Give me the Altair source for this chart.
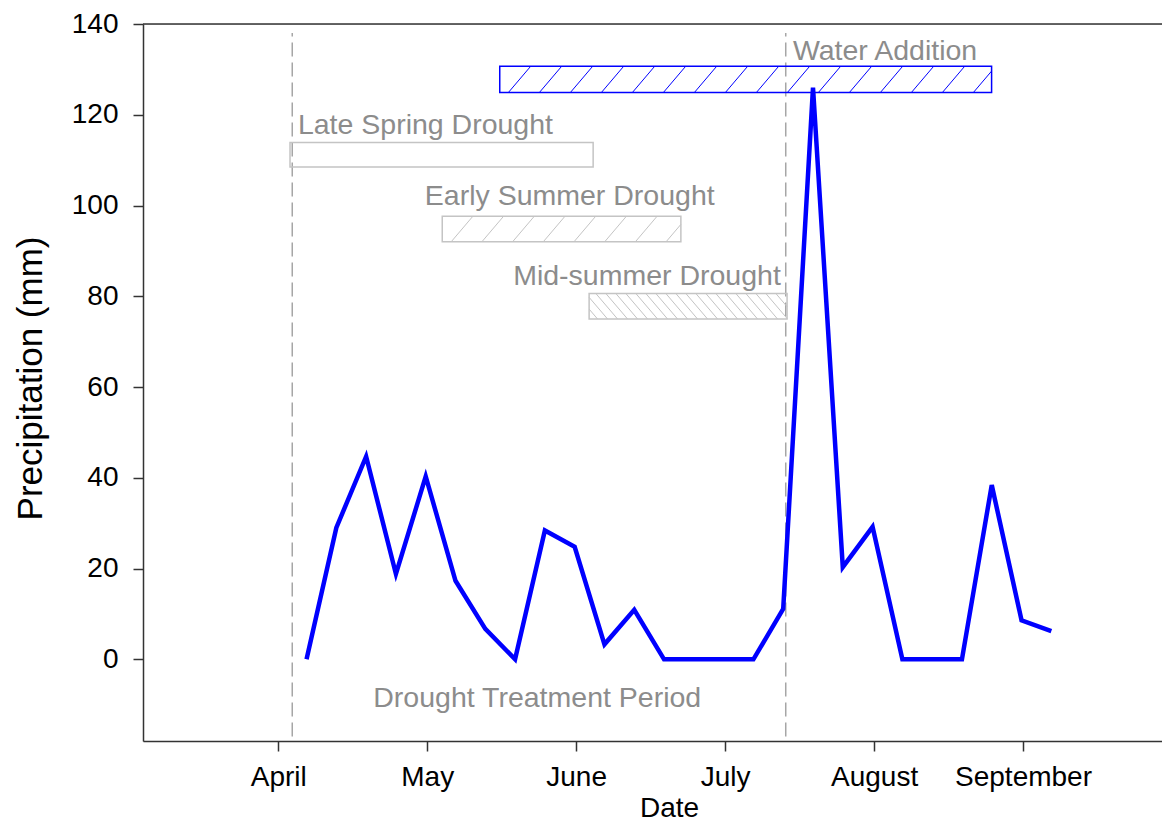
import altair as alt
import pandas as pd

# ---------------- data ----------------
# x in "month" units (4 = April, 5 = May, ...)
week_x = [4.19, 4.39, 4.59, 4.79, 4.99, 5.19, 5.39, 5.59, 5.79, 5.99, 6.19, 6.39, 6.59,
          6.79, 6.99, 7.19, 7.39, 7.59, 7.79, 7.99, 8.19, 8.39, 8.59, 8.79, 8.99, 9.19]
precip = [0, 29.0, 44.7, 18.8, 40.3, 17.3, 6.7, 0, 28.4, 24.8, 3.3, 10.9, 0,
          0, 0, 0, 11.1, 126.0, 20.3, 29.2, 0, 0, 0, 38.4, 8.6, 6.2]

month_ticks = [4, 5, 6, 7, 8, 9]
month_names = ["April", "May", "June", "July", "August", "September"]

period_x = [4.094, 7.407]          # dashed "drought treatment period" bounds
period_y = [-17.0, 138.0]

box_names = ["Water Addition", "Late Spring Drought", "Early Summer Drought", "Mid-summer Drought"]
box_x0 = [5.487, 4.079, 5.101, 6.087]
box_x1 = [8.789, 6.114, 6.703, 7.416]
box_y0 = [124.9, 108.5, 92.0, 75.0]
box_y1 = [130.7, 113.9, 97.65, 80.6]
box_color = ["#0000ff", "#c4c4c4", "#c4c4c4", "#c4c4c4"]
hatch_spacing = [31.0, None, 30.7, 10.0]   # px between hatch lines
hatch_dir = [1, 0, 1, -1]                  # 1 = "/", -1 = "\", 0 = none

label_text = ["Water Addition", "Late Spring Drought", "Early Summer Drought",
              "Mid-summer Drought", "Drought Treatment Period"]
label_x = [7.455, 4.132, 4.984, 5.577, 4.638]
label_y = [132.1, 115.8, 100.2, 82.5, -10.45]

X_MIN, X_MAX = 3.092, 9.933
Y_MIN, Y_MAX = -18.0, 140.0
W, H = 1019, 717
FONT = "Liberation Sans"

# ---------------- derived tables ----------------
line_df = pd.DataFrame({"x": week_x, "y": precip})
period_df = pd.DataFrame({"x": period_x, "y": [period_y[0]] * 2, "y2": [period_y[1]] * 2})
box_df = pd.DataFrame({"name": box_names, "x": box_x0, "x2": box_x1,
                       "y": box_y0, "y2": box_y1, "color": box_color})
label_df = pd.DataFrame({"text": label_text, "x": label_x, "y": label_y})

PX_X = W / (X_MAX - X_MIN)
PX_Y = H / (Y_MAX - Y_MIN)
SLANT = 0.85

hatch_rows = []
for i in range(len(box_names)):
    if hatch_dir[i] == 0:
        continue
    bw = (box_x1[i] - box_x0[i]) * PX_X
    bh = (box_y1[i] - box_y0[i]) * PX_Y
    k = hatch_dir[i] * SLANT
    sp = hatch_spacing[i]
    c = -SLANT * bh - sp
    while c < bw + SLANT * bh + sp:
        if k > 0:
            v_lo = max(0.0, (0 - c) / k)
            v_hi = min(bh, (bw - c) / k)
        else:
            v_lo = max(0.0, (bw - c) / k)
            v_hi = min(bh, (0 - c) / k)
        if v_hi - v_lo > 0.5:
            u_lo = c + k * v_lo
            u_hi = c + k * v_hi
            hatch_rows.append({
                "x": box_x0[i] + u_lo / PX_X, "x2": box_x0[i] + u_hi / PX_X,
                "y": box_y0[i] + v_lo / PX_Y, "y2": box_y0[i] + v_hi / PX_Y,
                "color": box_color[i]})
        c += sp
hatch_df = pd.DataFrame(hatch_rows)

label_expr = " : ".join(
    [f"datum.value == {m} ? '{n}'" for m, n in zip(month_ticks, month_names)]) + " : ''"

xscale = alt.Scale(domain=[X_MIN, X_MAX], nice=False, zero=False)
yscale = alt.Scale(domain=[Y_MIN, Y_MAX], nice=False, zero=False)

x_axis = alt.Axis(values=month_ticks, labelExpr=label_expr, title="Date", grid=False,
                  tickSize=10, tickColor="#333333", tickWidth=1.5,
                  domainColor="#333333", domainWidth=1.5,
                  labelFontSize=28, labelFont=FONT, labelColor="#000000", labelPadding=12,
                  titleFont=FONT, titleFontSize=28, titleFontWeight="normal",
                  titleColor="#000000", titleX=526, titleY=75, titleBaseline="alphabetic")
y_axis = alt.Axis(values=[0, 20, 40, 60, 80, 100, 120, 140], title="Precipitation (mm)",
                  grid=False, tickSize=10, tickColor="#333333", tickWidth=1.5,
                  domainColor="#333333", domainWidth=1.5,
                  labelFontSize=28, labelFont=FONT, labelColor="#000000", labelPadding=15,
                  titleFont=FONT, titleFontSize=35, titleFontWeight="normal",
                  titleColor="#000000", titleX=-113, titleY=354, titleBaseline="middle",
                  titleAngle=270)

period = alt.Chart(period_df).mark_rule(color="#a6a6a6", strokeWidth=1.5,
                                        strokeDash=[14, 6]).encode(
    x=alt.X("x:Q", scale=xscale, axis=x_axis),
    y=alt.Y("y:Q", scale=yscale, axis=y_axis),
    y2="y2:Q")

boxes = alt.Chart(box_df).mark_rect(fillOpacity=0, strokeWidth=1.5).encode(
    x="x:Q", x2="x2:Q", y="y:Q", y2="y2:Q",
    stroke=alt.Stroke("color:N", scale=None))

hatches = alt.Chart(hatch_df).mark_rule(strokeWidth=1).encode(
    x="x:Q", x2="x2:Q", y="y:Q", y2="y2:Q",
    color=alt.Color("color:N", scale=None))

line = alt.Chart(line_df).mark_line(color="#0000ff", strokeWidth=4.5).encode(
    x="x:Q", y="y:Q")

labels = alt.Chart(label_df).mark_text(align="left", baseline="alphabetic", fontSize=28.5,
                                       font=FONT, color="#8c8c8c").encode(
    x="x:Q", y="y:Q", text="text:N")

top_border = alt.Chart(pd.DataFrame({"y": [Y_MAX]})).mark_rule(
    color="#333333", strokeWidth=1.5).encode(
    x=alt.value(0), x2=alt.value(W), y="y:Q")

chart = alt.layer(period, hatches, boxes, line, labels, top_border).properties(
    width=W, height=H,
    autosize=alt.AutoSizeParams(type="none"),
    padding={"left": 135, "top": 16, "right": 0, "bottom": 81},
).configure_view(stroke=None).configure(background="white")

chart.save("out.html", embed_options={"renderer": "svg", "actions": False})
